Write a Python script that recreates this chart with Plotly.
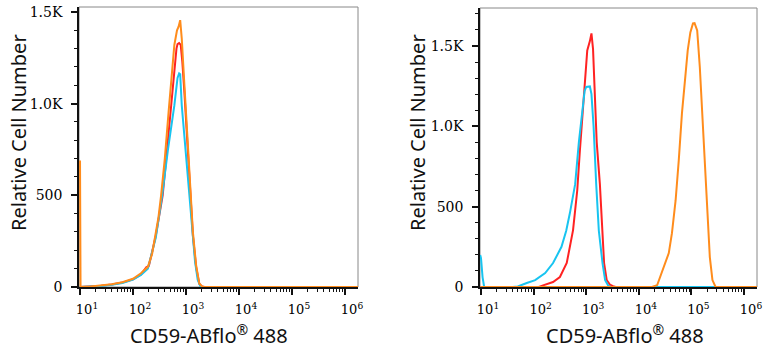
import plotly.graph_objects as go

# ---------------- data (log10 intensity, relative cell number) ----------------
# Left panel
left_red_logx = [0.99, 1.2, 1.4, 1.6, 1.8, 2.0, 2.15, 2.25, 2.30, 2.43, 2.56, 2.62, 2.68, 2.73, 2.78, 2.82, 2.84, 2.87, 2.90, 2.93, 2.97, 3.02, 3.08, 3.13, 3.19, 3.25, 3.30, 3.35, 6.26]
left_red_val = [0, 2, 7, 14, 24, 42, 68, 108, 115, 280, 500, 680, 880, 1040, 1200, 1300, 1325, 1330, 1320, 1230, 1060, 800, 500, 280, 110, 18, 3, 0, 0]

left_cyan_logx = [0.99, 1.2, 1.4, 1.6, 1.8, 2.0, 2.15, 2.28, 2.43, 2.55, 2.66, 2.78, 2.84, 2.87, 2.89, 2.92, 2.97, 3.02, 3.075, 3.12, 3.17, 3.22, 3.27, 3.32, 6.26]
left_cyan_val = [0, 2, 6, 12, 22, 40, 66, 100, 270, 500, 750, 990, 1140, 1165, 1160, 990, 820, 650, 500, 300, 140, 40, 5, 0, 0]

left_orange_logx = [1.0, 1.01, 1.2, 1.4, 1.6, 1.8, 2.0, 2.15, 2.28, 2.36, 2.43, 2.48, 2.53, 2.60, 2.67, 2.73, 2.78, 2.83, 2.86, 2.89, 2.92, 2.97, 3.03, 3.09, 3.13, 3.19, 3.25, 3.30, 3.35, 6.26]
left_orange_val = [690, 0, 3, 8, 15, 26, 45, 75, 110, 180, 290, 380, 500, 700, 950, 1180, 1320, 1400, 1420, 1455, 1355, 1100, 800, 500, 300, 120, 20, 3, 0, 0]

# Right panel
right_red_logx = [0.99, 2.10, 2.18, 2.37, 2.50, 2.63, 2.75, 2.83, 2.88, 2.95, 3.02, 3.07, 3.10, 3.13, 3.16, 3.20, 3.26, 3.31, 3.34, 3.39, 3.45, 3.51, 3.56, 6.25]
right_red_val = [0, 0, 10, 31, 62, 149, 354, 602, 850, 1180, 1472, 1530, 1578, 1480, 1200, 900, 640, 354, 149, 43, 15, 5, 0, 0]

right_cyan_logx = [0.985, 1.0, 1.03, 1.06, 1.60, 1.70, 1.87, 2.03, 2.22, 2.37, 2.53, 2.62, 2.69, 2.79, 2.86, 2.92, 2.97, 3.00, 3.07, 3.10, 3.14, 3.19, 3.24, 3.31, 3.36, 3.42, 3.47, 6.25]
right_cyan_val = [199, 180, 60, 0, 0, 3, 25, 43, 87, 149, 250, 350, 460, 640, 900, 1100, 1220, 1245, 1248, 1200, 1000, 640, 350, 149, 43, 8, 0, 0]

right_orange_logx = [0.99, 4.25, 4.35, 4.48, 4.57, 4.63, 4.70, 4.76, 4.82, 4.89, 4.93, 4.98, 5.03, 5.06, 5.11, 5.16, 5.21, 5.25, 5.30, 5.35, 5.40, 5.46, 6.25]
right_orange_val = [0, 0, 12, 124, 211, 335, 540, 789, 1080, 1329, 1472, 1584, 1640, 1642, 1596, 1367, 1056, 745, 435, 186, 43, 0, 0]

x_tick_vals = [10, 100, 1000, 10000, 100000, 1000000]
x_tick_text = ["10<sup>1</sup>", "10<sup>2</sup>", "10<sup>3</sup>", "10<sup>4</sup>", "10<sup>5</sup>", "10<sup>6</sup>"]
y_tick_vals = [0, 500, 1000, 1500]
y_tick_text = ["0", "500", "1.0K", "1.5K"]

x_title = "CD59-ABflo<sup>®</sup> 488"
y_title = "Relative Cell Number"

RED = "#ff2222"
CYAN = "#18c4f0"
ORANGE = "#ff8c1c"

W, H = 768, 350


def tolin(lx):
    return [10 ** v for v in lx]


fig = go.Figure()

panels = [
    ("x", "y", [(left_red_logx, left_red_val, RED), (left_cyan_logx, left_cyan_val, CYAN), (left_orange_logx, left_orange_val, ORANGE)]),
    ("x2", "y2", [(right_red_logx, right_red_val, RED), (right_cyan_logx, right_cyan_val, CYAN), (right_orange_logx, right_orange_val, ORANGE)]),
]
for xa, ya, series in panels:
    for lx, vals, col in series:
        fig.add_trace(go.Scatter(x=tolin(lx), y=vals, mode="lines", xaxis=xa, yaxis=ya,
                                 line=dict(color=col, width=2), showlegend=False, hoverinfo="skip"))

SERIF = "DejaVu Serif"

fig.update_layout(
    width=W, height=H, margin=dict(l=0, r=0, t=0, b=0),
    paper_bgcolor="white", plot_bgcolor="white",
    font=dict(family=SERIF, size=14, color="#000"),
)

for name, dom, rng in [("xaxis", [79 / W, 358 / W], [0.981, 6.245]),
                       ("xaxis2", [480 / W, 757 / W], [0.981, 6.247])]:
    fig.layout[name] = go.layout.XAxis(
        type="log", domain=dom, range=rng, anchor="y" if name == "xaxis" else "y2",
        showgrid=False, zeroline=False, showline=True, linecolor="#111", linewidth=1.5,
        ticks="outside", ticklen=6, tickwidth=1.5, tickcolor="#111",
        ticklabelstandoff=4, ticklabelshift=7,
        tickmode="array", tickvals=x_tick_vals, ticktext=x_tick_text,
        tickfont=go.layout.xaxis.Tickfont(family=SERIF, size=13, color="#000"),
        minor=dict(ticks="outside", ticklen=3, tickwidth=1, tickcolor="#111", dtick="D1", showgrid=False),
        fixedrange=True, automargin=False,
    )

for name, dom, rng in [("yaxis", [1 - 287 / H, 1 - 7 / H], [0, 1527]),
                       ("yaxis2", [1 - 287 / H, 1 - 8 / H], [0, 1736])]:
    fig.layout[name] = go.layout.YAxis(
        domain=dom, range=rng, anchor="x" if name == "yaxis" else "x2",
        showgrid=False, zeroline=False, showline=True, linecolor="#111", linewidth=1.5,
        ticks="outside", ticklen=6, tickwidth=1.5, tickcolor="#111", ticklabelstandoff=6,
        tickmode="array", tickvals=y_tick_vals, ticktext=y_tick_text,
        tickfont=go.layout.yaxis.Tickfont(family=SERIF, size=14, color="#000"),
        minor=dict(ticks="outside", ticklen=3, tickwidth=1, tickcolor="#111", dtick=100, showgrid=False),
        fixedrange=True, automargin=False,
    )

# frame (top/right) in grey
for xr, yr in [("x domain", "y domain"), ("x2 domain", "y2 domain")]:
    fig.add_shape(type="rect", xref=xr, yref=yr, x0=0, x1=1, y0=0, y1=1,
                  line=dict(color="#888", width=1), layer="below")

title_font = dict(family="Noto Sans", size=20, color="#111")
annots = [
    dict(x=209 / W, y=1 - 334 / H, text=x_title),
    dict(x=625 / W, y=1 - 334 / H, text=x_title),
    dict(x=18 / W, y=1 - 133 / H, text=y_title, textangle=-90),
    dict(x=417 / W, y=1 - 133 / H, text=y_title, textangle=-90),
]
for a in annots:
    fig.add_annotation(xref="paper", yref="paper", showarrow=False, font=title_font,
                       xanchor="center", yanchor="middle", **a)

fig.write_html("out.html")
